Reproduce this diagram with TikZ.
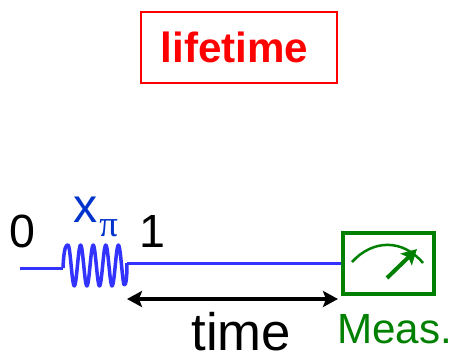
\documentclass[tikz,border=0pt]{standalone}
\usepackage{fontspec}
\setmainfont{Liberation Sans}
\newfontfamily\pifont{Liberation Serif}
\usepackage{xcolor}
\usetikzlibrary{arrows.meta}
\definecolor{qubitblue}{RGB}{51,51,255}
\definecolor{gateblue}{RGB}{0,51,204}
\definecolor{measgreen}{RGB}{0,128,0}
\newcommand{\fsz}[1]{\fontsize{#1}{#1}\selectfont}

\begin{document}
\begin{tikzpicture}[>={Stealth[length=3mm,width=3.2mm,inset=0.6mm]},line cap=butt,
  wire/.style={qubitblue,line width=0.06cm},
  lbl/.style={anchor=base west,inner sep=0pt}]
\useasboundingbox (0,0) rectangle (9.08,7.12);
\node[draw=red,line width=0.04cm,minimum width=3.93cm,minimum height=1.43cm,text=red,inner sep=0pt] (title) at (4.78,6.17) {\fsz{24}\bfseries lifetime\kern0.18cm};
\node[draw=measgreen,line width=0.08cm,minimum width=1.81cm,minimum height=1.21cm] (meas) at (7.775,1.855) {};
\coordinate (wireL) at (0.40,1.76);
\coordinate (coilIn) at (1.26,1.76);
\coordinate (coilOut) at (2.54,1.855);
\coordinate (timeL) at (2.54,1.14);
\coordinate (timeR) at (6.76,1.14);
\coordinate (dialL) at (7.04,1.88);
\coordinate (dialR) at (8.46,1.86);
\coordinate (needleA) at (7.74,1.56);
\coordinate (needleB) at (8.34,2.14);
% wire and pulse
\draw[wire] (wireL) -- (coilIn);
\draw[wire] (coilOut) -- (meas);
\draw[wire,line join=round,line width=0.07cm] (coilIn) .. controls (1.28,2.22) and (1.33,2.22) .. (1.36,2.22)
  -- plot[domain=1.36:2.48,samples=90,smooth] (\x,{1.81+0.41*cos(360*(\x-1.36)/0.252)})
  .. controls (2.51,1.40) and (2.54,1.50) .. (coilOut);
% time arrow
\draw[<->,line width=0.07cm] (timeL) -- (timeR);
% dial
\draw[measgreen,line width=0.05cm] (dialL) .. controls (7.45,2.33) and (8.05,2.35) .. (dialR);
\draw[->,measgreen,line width=0.08cm] (needleA) -- (needleB);
% labels
\node[lbl] (zero) at (0.19,2.17) {\fsz{26.5}0};
\node[lbl] (one) at (2.78,2.17) {\fsz{26.5}1};
\node[lbl,text=gateblue] (gate) at (1.46,2.66) {\fsz{27.5}x};
\node[lbl,text=gateblue] (gatepi) at (1.98,2.38) {\fsz{21}\pifont π};
\node[lbl] (time) at (3.82,0.12) {\fsz{30}time};
\node[lbl,text=measgreen] (measlbl) at (6.74,0.26) {\fsz{24}Meas.};
\end{tikzpicture}
\end{document}
